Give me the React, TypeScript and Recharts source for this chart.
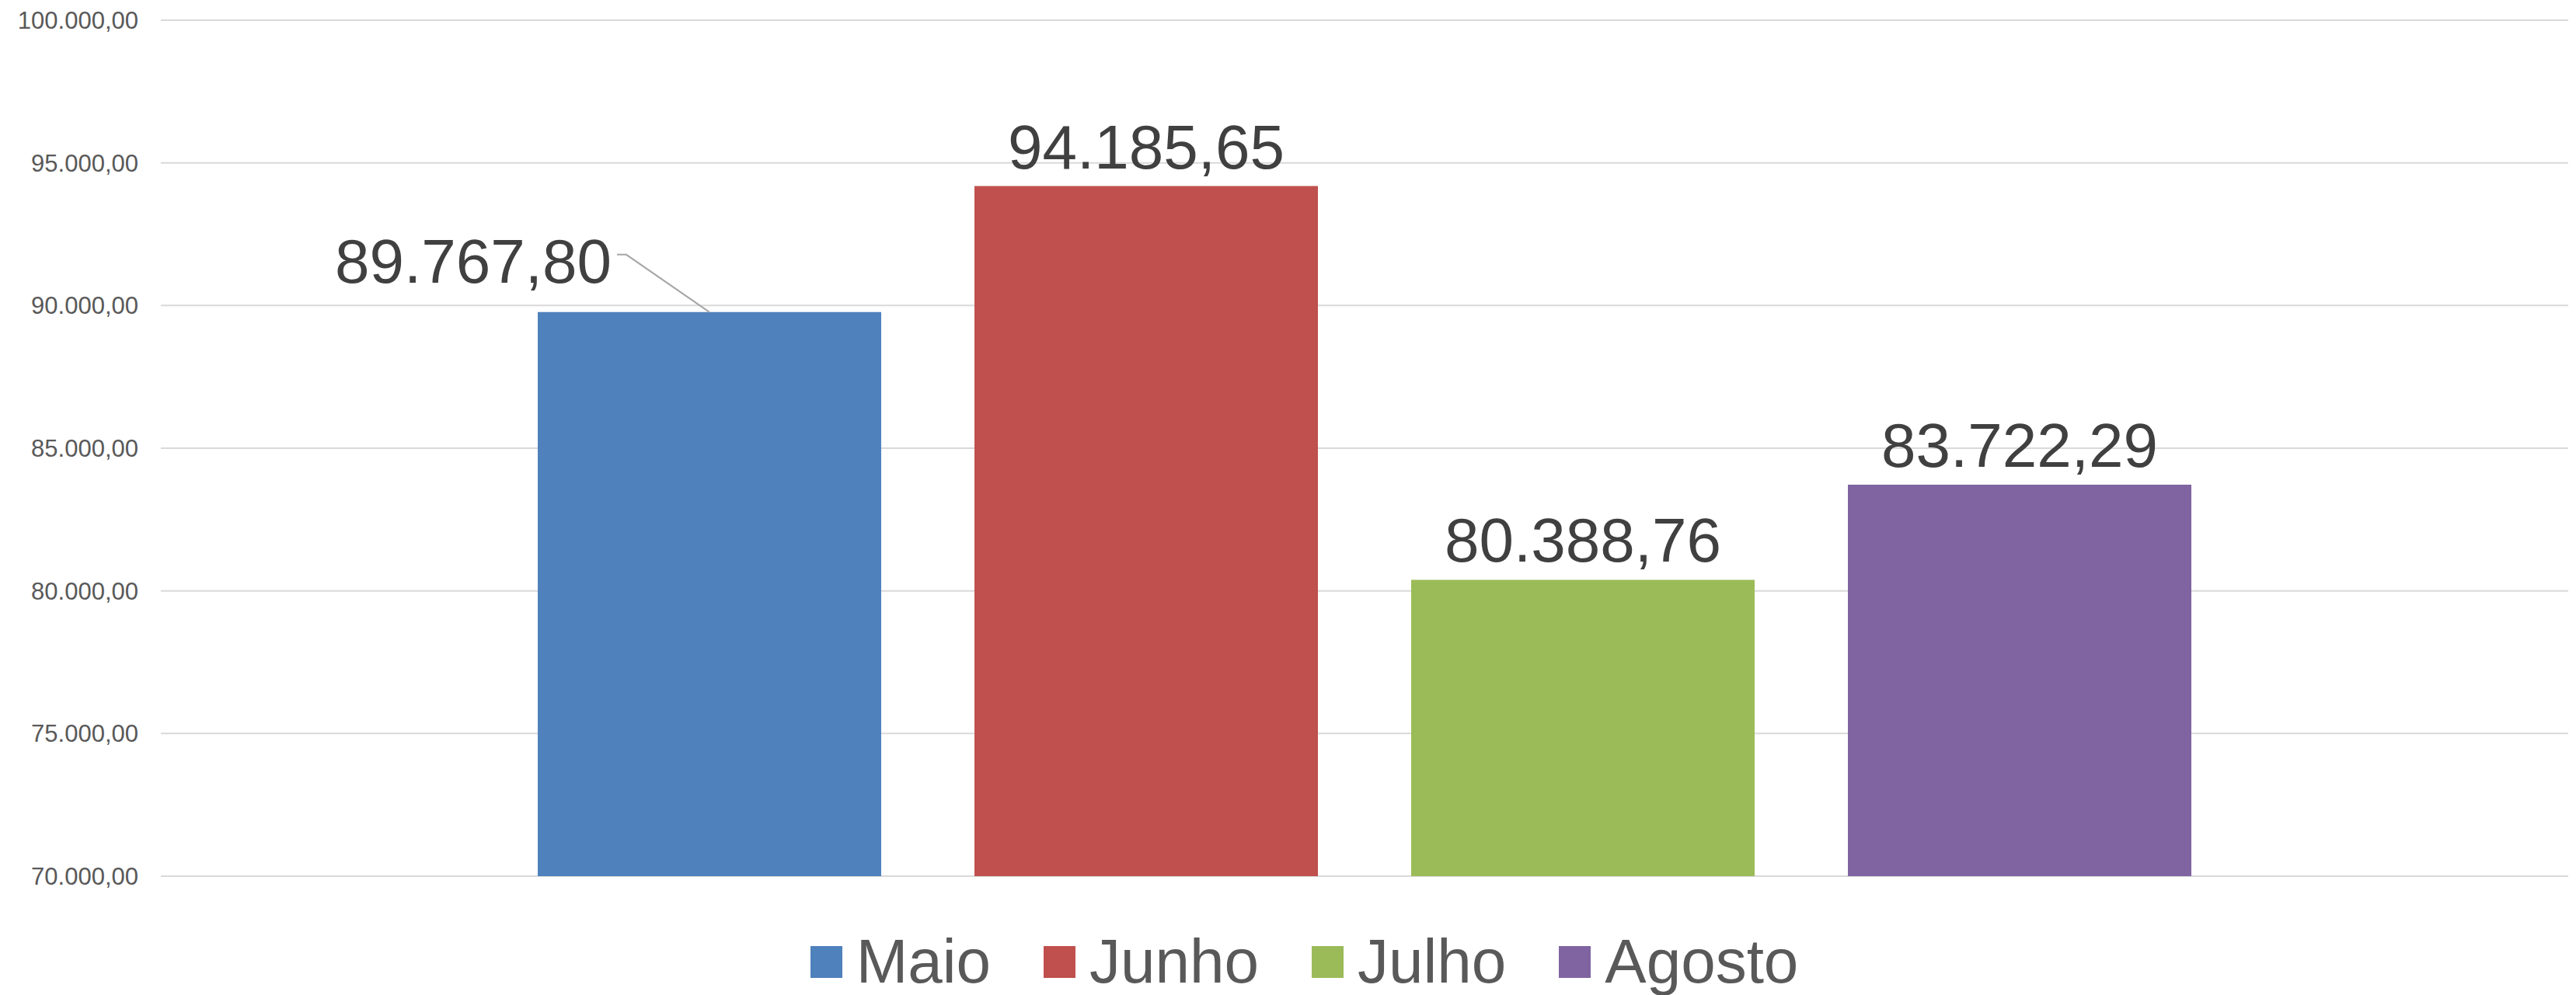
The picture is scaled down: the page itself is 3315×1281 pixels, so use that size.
import { Bar, BarChart, CartesianGrid, Legend, LabelList, XAxis, YAxis } from "recharts";

const months = ["Maio", "Junho", "Julho", "Agosto"];
const values = [89767.8, 94185.65, 80388.76, 83722.29];
const colors = ["#4F81BD", "#C0504D", "#9BBB59", "#8064A2"];
const yTicks = [70000, 75000, 80000, 85000, 90000, 95000, 100000];

const chartData = [
	months.reduce<Record<string, number | string>>(
		(row, m, i) => {
			row[m] = values[i];
			return row;
		},
		{ name: "" },
	),
];

const font = "'Liberation Sans', Arial, sans-serif";

function formatBR(v: number) {
	const [int, dec] = v.toFixed(2).split(".");
	return `${int.replace(/\B(?=(\d{3})+(?!\d))/g, ".")},${dec}`;
}

function ValueLabel(props: any) {
	const { x, y, width, value, index, leader } = props;
	if (index !== 0) return null;
	const cx = x + width / 2;
	if (leader) {
		return (
			<g>
				<polyline
					points={`${cx - 119},${y - 74} ${cx - 107},${y - 74} ${cx},${y}`}
					fill="none"
					stroke="#A6A6A6"
					strokeWidth={2}
				/>
				<text x={cx - 126} y={y - 38} textAnchor="end" fill="#404040" fontSize={80} fontFamily={font}>
					{formatBR(value)}
				</text>
			</g>
		);
	}
	return (
		<text x={cx} y={y - 23} textAnchor="middle" fill="#404040" fontSize={80} fontFamily={font}>
			{formatBR(value)}
		</text>
	);
}

function LegendContent({ payload }: any) {
	// keep series order, not the alphabetical one
	const items = [...(payload || [])].sort(
		(a: any, b: any) => months.indexOf(a.value) - months.indexOf(b.value),
	);
	return (
		<div
			style={{
				height: 153,
				boxSizing: "border-box",
				paddingTop: 70,
				paddingLeft: 52,
				display: "flex",
				justifyContent: "center",
				alignItems: "flex-start",
				fontFamily: font,
			}}
		>
			{items.map((entry: any, i: number) => (
				<div
					key={entry.value}
					style={{ display: "flex", alignItems: "center", marginLeft: i === 0 ? 0 : 68 }}
				>
					<span style={{ width: 41, height: 41, background: entry.color, display: "inline-block" }} />
					<span style={{ marginLeft: 18, fontSize: 80, lineHeight: "80px", color: "#595959" }}>
						{entry.value}
					</span>
				</div>
			))}
		</div>
	);
}

export default function App() {
	return (
		<div style={{ position: "absolute", left: 0, top: 0, background: "#fff" }}>
			<BarChart
				width={3315}
				height={1281}
				data={chartData}
				margin={{ top: 26, right: 10, left: 0, bottom: 0 }}
				barGap={120}
			>
				<CartesianGrid vertical={false} stroke="#D9D9D9" strokeWidth={2} />
				<XAxis dataKey="name" hide />
				<YAxis
					domain={[70000, 100000]}
					ticks={yTicks}
					width={207}
					axisLine={false}
					tickLine={false}
					tickSize={0}
					tickMargin={29}
					tickFormatter={formatBR}
					tick={{ fill: "#595959", fontSize: 31, fontFamily: font }}
				/>
				<Legend verticalAlign="bottom" content={<LegendContent />} />
				{months.map((m, i) => (
					<Bar key={m} dataKey={m} fill={colors[i]} barSize={442} isAnimationActive={false}>
						<LabelList dataKey={m} content={(p: any) => <ValueLabel {...p} leader={i === 0} />} />
					</Bar>
				))}
			</BarChart>
		</div>
	);
}
